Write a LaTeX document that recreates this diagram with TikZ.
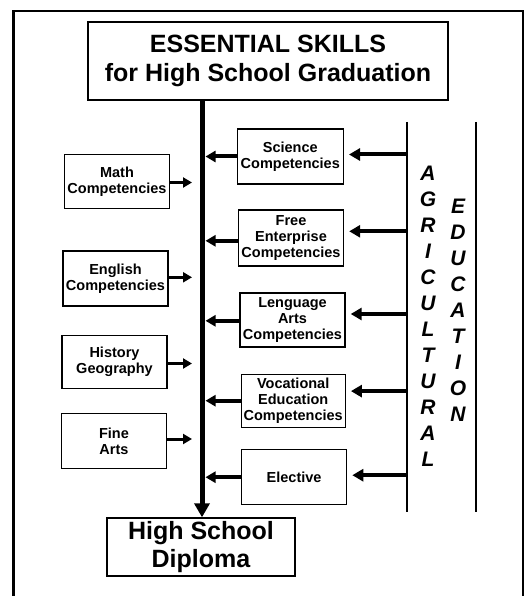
\documentclass[tikz,border=0pt]{standalone}
\usepackage{fontspec}
\setmainfont{Liberation Sans}
\usetikzlibrary{arrows.meta}
\begin{document}
\begin{tikzpicture}[x=1pt,y=-1pt,
  box/.style={draw, line width=1.4pt, inner sep=0pt, align=center,
    font=\fontsize{14.5}{16}\selectfont\bfseries},
  bigbox/.style={draw, line width=1.4pt, inner sep=0pt, align=center,
    font=\fontsize{25}{28.5}\selectfont\bfseries},
  agarrow/.style={line width=4pt, shorten >=5pt, -{Triangle[length=11pt,width=12pt]}},
  inarrow/.style={line width=4pt, -{Triangle[length=10pt,width=11pt]}},
  lfarrow/.style={line width=3pt, -{Triangle[length=9pt,width=10pt]}},
  spinearrow/.style={line width=5pt, -{Triangle[length=14pt,width=15pt]}},
  vletters/.style={align=center, inner sep=0pt,
    font=\fontsize{21}{26}\selectfont\bfseries\itshape},
]
\useasboundingbox (0,0) rectangle (529,596);
\clip (0,0) rectangle (529,596);
% outer frame
\draw[line width=2.5pt] (13.5,11) rectangle (523,610);

% title and diploma
\node[bigbox, minimum width=360pt, minimum height=78pt] (title) at (268,61)
  {ESSENTIAL SKILLS\\for High School Graduation};
\node[bigbox, minimum width=188pt, minimum height=58pt] (dip) at (201,547)
  {High School\\Diploma};

% spine
\coordinate (sp) at (202,0);
\draw[spinearrow] (title.south -| sp) -- (dip.north -| sp);

% left column
\node[box, minimum width=105pt, minimum height=54pt] (math) at (117,181.5) {Math\\Competencies};
\node[box, minimum width=105pt, minimum height=55pt] (eng) at (115.5,278.3) {English\\Competencies};
\node[box, minimum width=105pt, minimum height=53pt] (hist) at (114.5,362) {History\\Geography};
\node[box, minimum width=105pt, minimum height=54.5pt] (fine) at (114,441) {Fine\\Arts};

\coordinate (lt) at (192,0);
\foreach \n/\s in {math/-1, eng/1, hist/-1.5, fine/2}
  \draw[lfarrow] ([yshift=\s pt]\n.east) -- ([yshift=\s pt]\n.east -| lt);

% middle column
\node[box, minimum width=106pt, minimum height=55pt] (sci) at (290.3,156.5) {Science\\Competencies};
\node[box, minimum width=105pt, minimum height=56pt] (free) at (291,237.8) {Free\\Enterprise\\Competencies};
\node[box, minimum width=105pt, minimum height=54pt] (lang) at (292.5,319.8) {Lenguage\\Arts\\Competencies};
\node[box, minimum width=104pt, minimum height=53pt] (voc) at (293.2,400.7) {Vocational\\Education\\Competencies};
\node[box, minimum width=105pt, minimum height=55pt] (elec) at (294.1,477.2) {Elective};

\coordinate (st) at (205.5,0);
\foreach \n/\s in {sci/0, free/-3, lang/-1, voc/0, elec/0}
  \draw[inarrow] ([yshift=\s pt]\n.west) -- ([yshift=\s pt]\n.west -| st);

% agricultural education column
\coordinate (agt) at (407,122);
\coordinate (agb) at (407,512);
\coordinate (edt) at (476,122);
\coordinate (edb) at (476,512);
\draw[line width=1.4pt] (agt) -- (agb);
\draw[line width=1.4pt] (edt) -- (edb);

\node[vletters] (agri) at (428,316)
  {A\\G\\R\\I\\C\\U\\L\\T\\U\\R\\A\\L};
\node[vletters] (educ) at (458,310)
  {E\\D\\U\\C\\A\\T\\I\\O\\N};

\foreach \n/\s in {sci/2, free/6.5, lang/5.8, voc/9.6, elec/2}
  \draw[agarrow] ([yshift=\s pt]\n.east -| agt) -- ([yshift=\s pt]\n.east);
\end{tikzpicture}
\end{document}
